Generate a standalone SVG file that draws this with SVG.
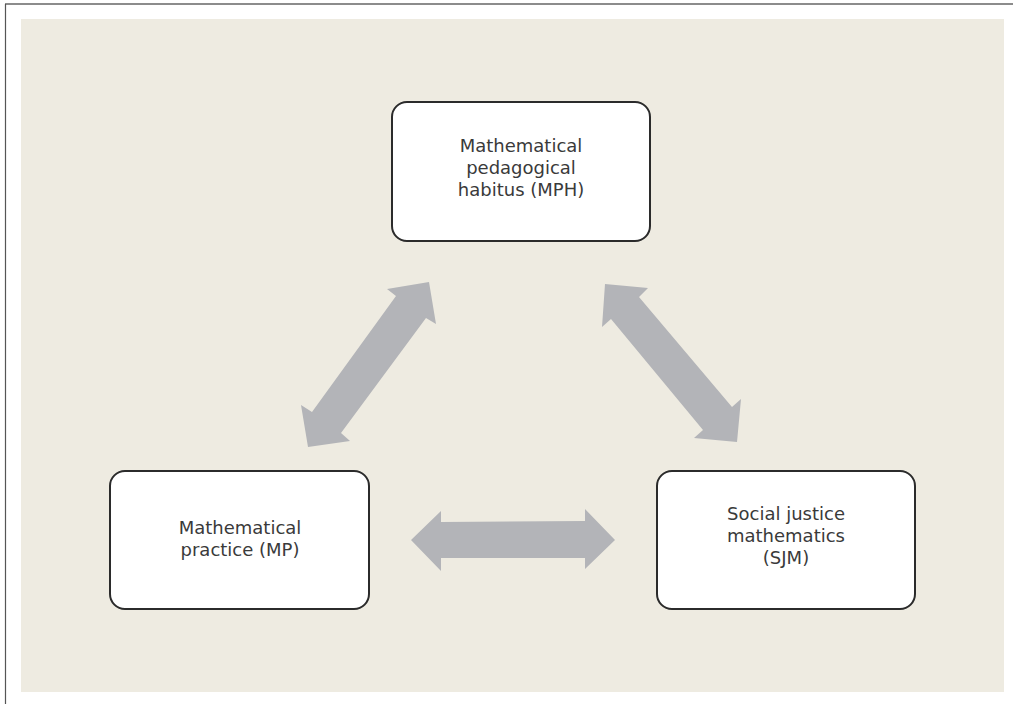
<svg xmlns="http://www.w3.org/2000/svg" width="1013" height="704" viewBox="0 0 1013 704">
  <style>
    .box { fill: #ffffff; stroke: #2b2b2b; stroke-width: 2; }
    .label { font-family: "DejaVu Sans", "Liberation Sans", sans-serif; font-size: 18px; fill: #3a3a3a; text-anchor: middle; }
    .arrow { fill: #b3b4b8; }
  </style>
  <rect x="0" y="0" width="1013" height="704" fill="#ffffff"/>
  <!-- frame lines -->
  <line x1="5" y1="4" x2="1013" y2="4" stroke="#666666" stroke-width="1.5"/>
  <line x1="5.5" y1="4" x2="5.5" y2="704" stroke="#555555" stroke-width="1.2"/>
  <!-- background panel -->
  <rect x="21" y="19" width="983" height="673" fill="#eeebe1"/>

  <g id="connectors">
    <!-- MP <-> MPH -->
    <polygon class="arrow" points="429,282 436,324 426,318 341,433 350,441 308,447 301,405 312,412 396,296 387,289"/>
    <!-- MPH <-> SJM -->
    <polygon class="arrow" points="605,284 648,288 639,297 732,407 741,399 737,442 694,438 703,430 611,319 602,327"/>
    <!-- MP <-> SJM -->
    <polygon class="arrow" points="411,540 441,511 441,522 585,521 585,509 615,540 585,569 585,558 441,558 441,571"/>
  </g>

  <g id="node-mph">
    <rect class="box" x="392" y="102" width="258" height="139" rx="15"/>
    <text class="label" x="521" y="152">Mathematical</text>
    <text class="label" x="521" y="174">pedagogical</text>
    <text class="label" x="521" y="196">habitus (MPH)</text>
  </g>

  <g id="node-mp">
    <rect class="box" x="110" y="471" width="259" height="138" rx="15"/>
    <text class="label" x="240" y="534">Mathematical</text>
    <text class="label" x="240" y="556">practice (MP)</text>
  </g>

  <g id="node-sjm">
    <rect class="box" x="657" y="471" width="258" height="138" rx="15"/>
    <text class="label" x="786" y="520">Social justice</text>
    <text class="label" x="786" y="542">mathematics</text>
    <text class="label" x="786" y="564">(SJM)</text>
  </g>
</svg>
